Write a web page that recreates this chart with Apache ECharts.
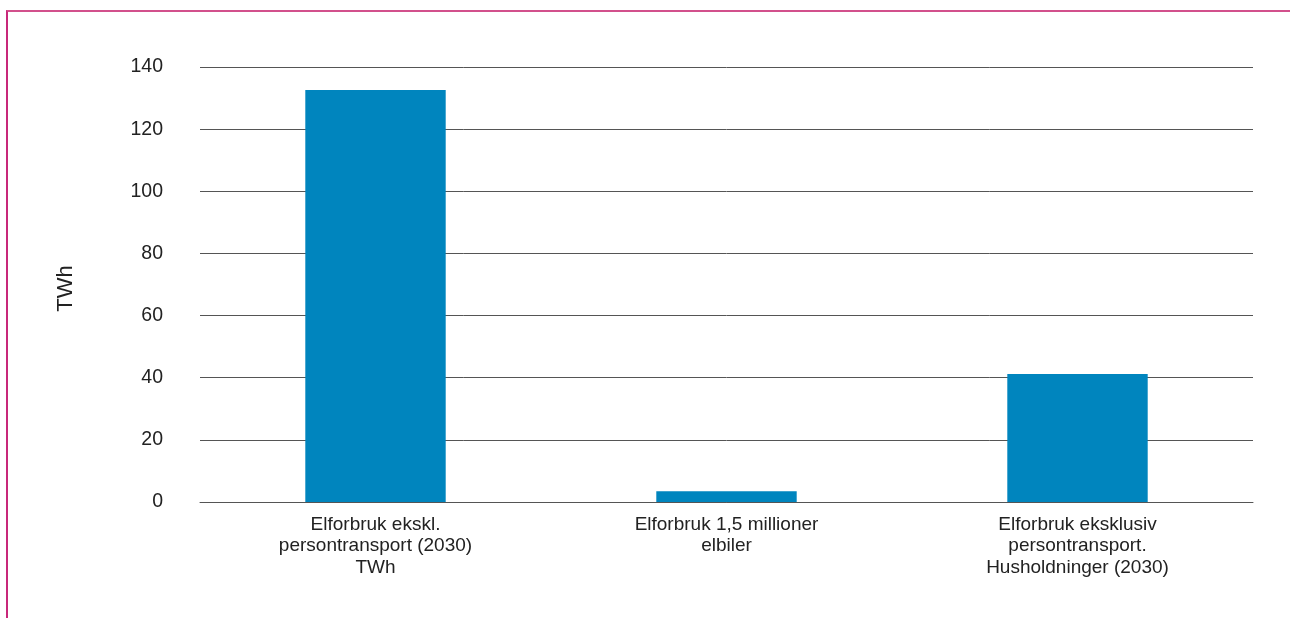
<!DOCTYPE html>
<html>
<head>
<meta charset="utf-8">
<script src="https://cdn.jsdelivr.net/npm/echarts@6/dist/echarts.min.js"></script>
<style>
html,body{margin:0;padding:0;background:#fff;}
#frame{position:absolute;left:6px;top:10px;width:1284px;height:608px;border-top:2px solid #d2508c;border-left:2px solid #c8287a;box-sizing:border-box;}
#chart{position:absolute;left:0;top:0;width:1290px;height:618px;}
</style>
</head>
<body>
<div id="frame"></div>
<div id="chart"></div>
<script>
const categories = [
  "Elforbruk ekskl.\npersontransport (2030)\nTWh",
  "Elforbruk 1,5 millioner\nelbiler",
  "Elforbruk eksklusiv\npersontransport.\nHusholdninger (2030)"
];
const values = [132.6, 3.5, 41.2];
const yAxisName = "TWh";

const chart = echarts.init(document.getElementById('chart'), null, {renderer:'canvas'});
chart.setOption({
  animation: false,
  textStyle: {fontFamily: 'Liberation Sans, Arial, sans-serif'},
  grid: {left: 200, right: 37, top: 67, bottom: 116, containLabel: false},
  xAxis: {
    type: 'category',
    data: categories,
    axisLine: {show: true, lineStyle: {color: '#555', width: 1}},
    axisTick: {show: false},
    axisLabel: {color: '#222', fontSize: 19, lineHeight: 21.5, margin: 12, interval: 0}
  },
  yAxis: {
    type: 'value',
    min: 0, max: 140, interval: 20,
    name: yAxisName,
    nameLocation: 'middle',
    nameGap: 123,
    nameRotate: 90,
    nameTextStyle: {color: '#222', fontSize: 22, padding: [0, 8, 0, 0]},
    axisLine: {show: false},
    axisTick: {show: false},
    axisLabel: {color: '#222', fontSize: 19.5, margin: 37},
    splitLine: {lineStyle: {color: '#555', width: 1}}
  },
  series: [{
    type: 'bar',
    data: values,
    barWidth: '40%',
    itemStyle: {color: '#0085be'}
  }]
});
</script>
</body>
</html>
